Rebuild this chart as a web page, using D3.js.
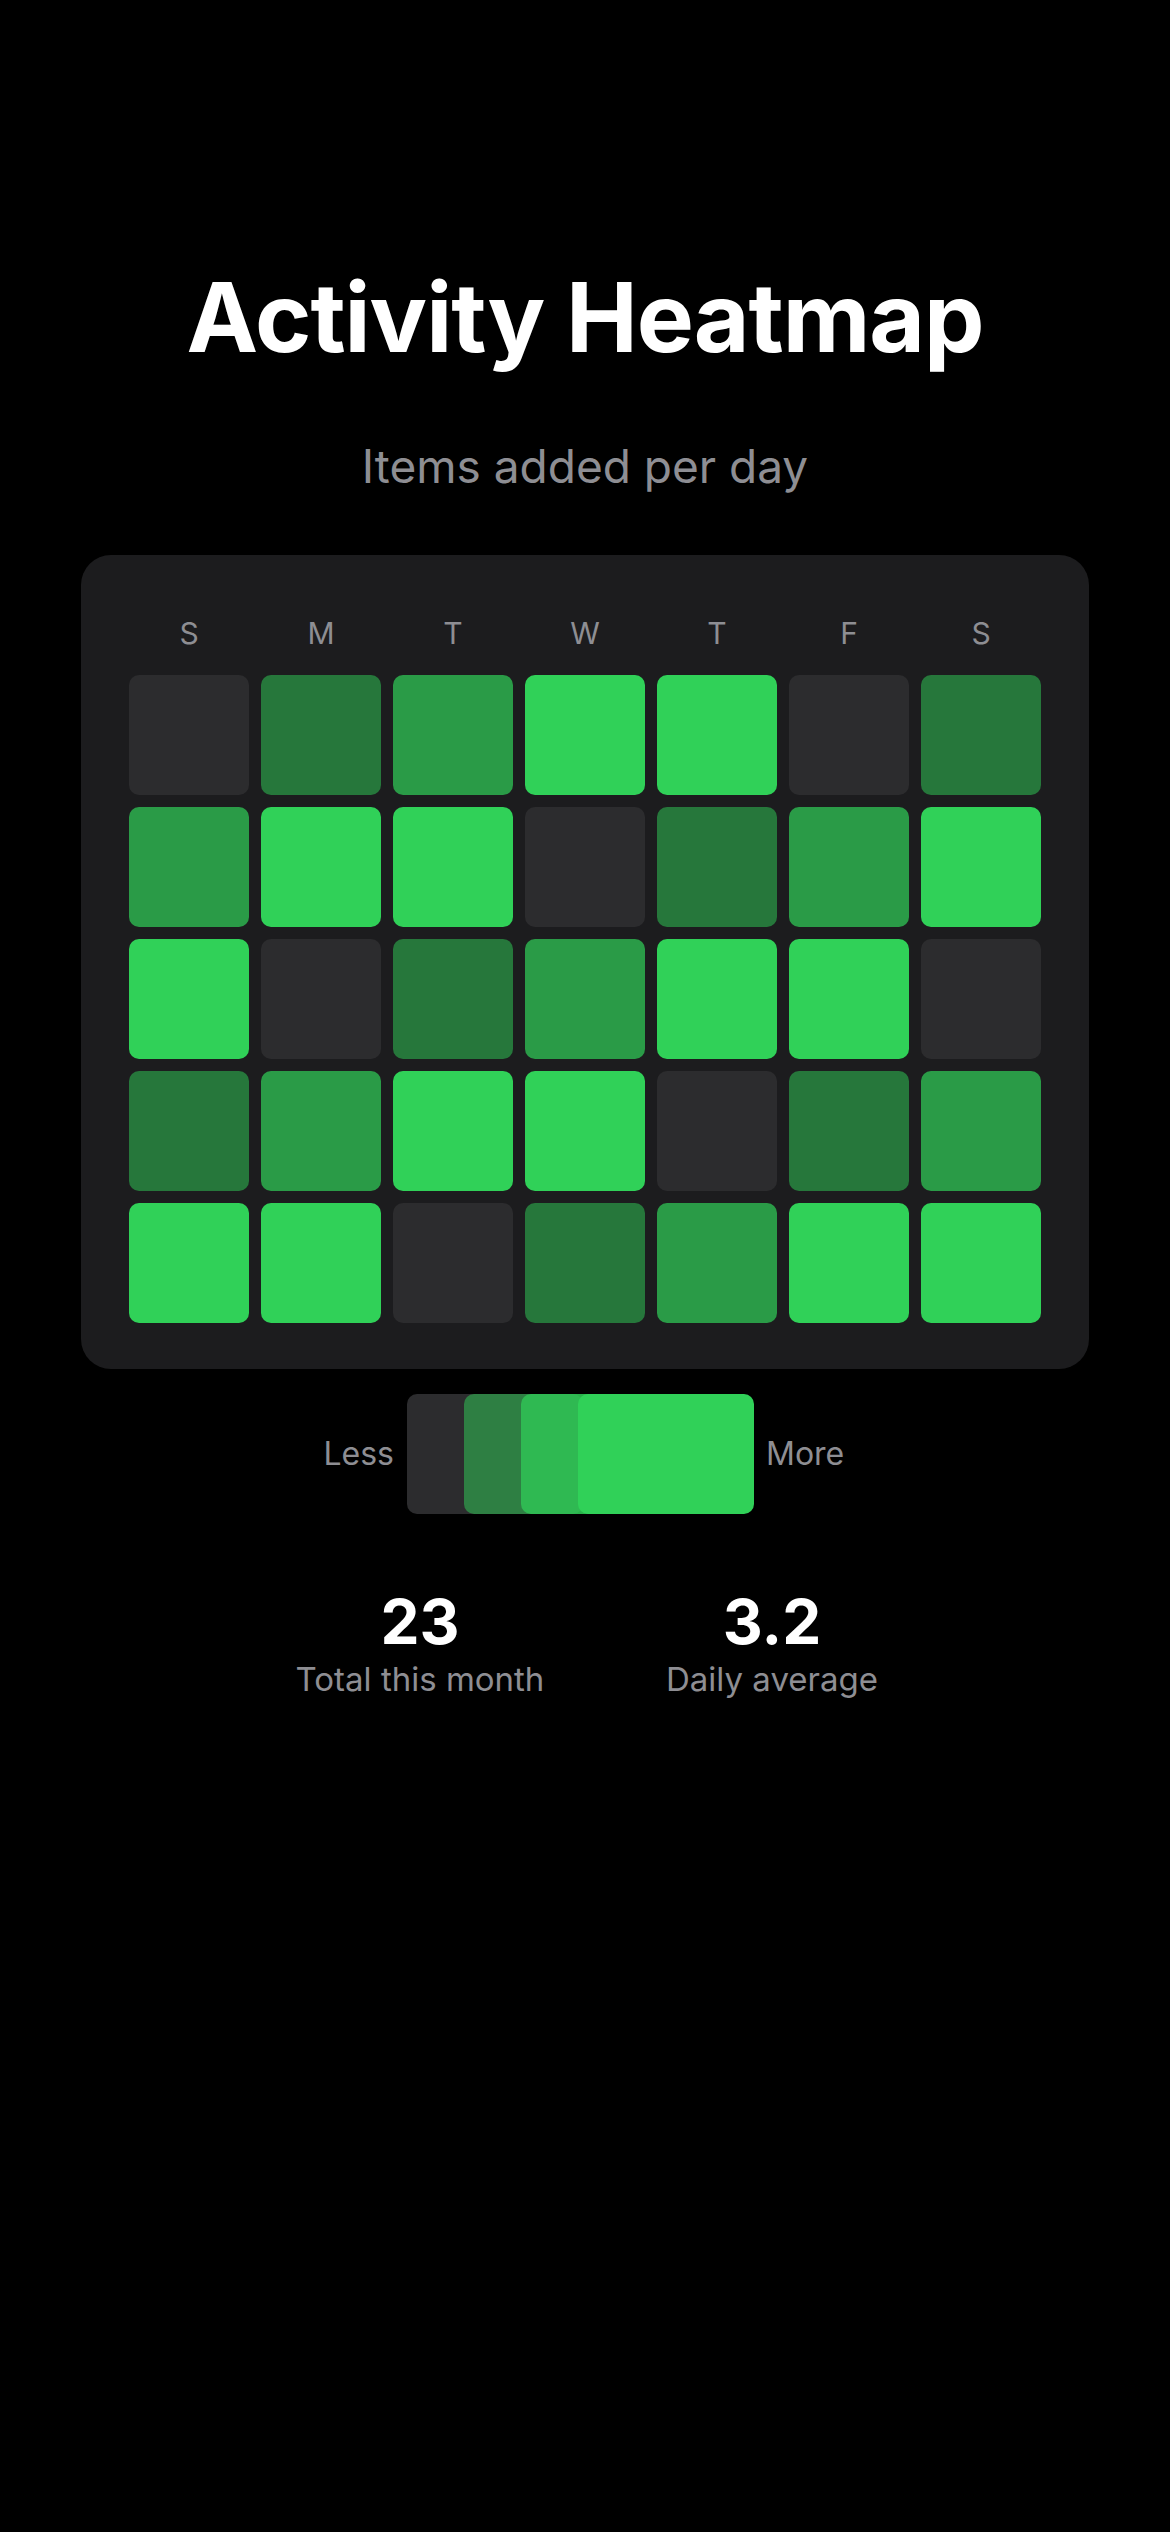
<!DOCTYPE html>
<html>
<head>
<meta charset="utf-8">
<script src="https://cdn.jsdelivr.net/npm/d3@7"></script>
<style>
  html, body { margin: 0; padding: 0; background: #000; }
  svg { display: block; }
  text { font-family: Inter, "Noto Sans", sans-serif; }
</style>
</head>
<body>
<svg id="chart" width="1170" height="2532"></svg>
<script>
// ---- data ----
const days = ["S", "M", "T", "W", "T", "F", "S"];
const weeks = [1, 2, 3, 4, 5];
// activity level per cell (0 = none, 3 = most), rows = weeks, columns = days
const week1 = [0, 1, 2, 3, 3, 0, 1];
const week2 = [2, 3, 3, 0, 1, 2, 3];
const week3 = [3, 0, 1, 2, 3, 3, 0];
const week4 = [1, 2, 3, 3, 0, 1, 2];
const week5 = [3, 3, 0, 1, 2, 3, 3];
const levels = [0, 1, 2, 3];
const levelOpacity = [1, 0.5, 0.7, 1];
const statValues = ["23", "3.2"];
const statLabels = ["Total this month", "Daily average"];

const grid = [week1, week2, week3, week4, week5];
const cells = [];
grid.forEach((row, r) => row.forEach((v, c) => cells.push({ r, c, v })));

const svg = d3.select("#chart");
const W = 1170;
const grey = "#8e8e93";
const green = "#30d158";
const empty = "#2c2c2e";

svg.append("rect").attr("width", W).attr("height", 2532).attr("fill", "#000");

// title
svg.append("text").attr("x", W / 2).attr("y", 352).attr("text-anchor", "middle")
  .attr("font-size", 96).attr("font-weight", 700).attr("fill", "#fff")
  .attr("letter-spacing", -1)
  .text("Activity Heatmap");
svg.append("text").attr("x", W / 2).attr("y", 483).attr("text-anchor", "middle")
  .attr("font-size", 46).attr("fill", grey)
  .text("Items added per day");

// card
svg.append("rect").attr("x", 81).attr("y", 555).attr("width", 1008).attr("height", 814)
  .attr("rx", 30).attr("fill", "#1c1c1e");

const x = d3.scaleBand().domain(d3.range(days.length)).range([129, 1041]).paddingInner(1 / 11);
const y = d3.scaleBand().domain(d3.range(weeks.length)).range([675, 1323]).paddingInner(1 / 11);
const fill = d3.scaleOrdinal().domain(levels).range([empty, green, green, green]);
const op = d3.scaleOrdinal().domain(levels).range(levelOpacity);

svg.append("g").selectAll("text").data(days).join("text")
  .attr("x", (d, i) => x(i) + x.bandwidth() / 2).attr("y", 644)
  .attr("text-anchor", "middle").attr("font-size", 30).attr("fill", grey)
  .text(d => d);

svg.append("g").selectAll("rect").data(cells).join("rect")
  .attr("x", d => x(d.c)).attr("y", d => y(d.r))
  .attr("width", x.bandwidth()).attr("height", y.bandwidth())
  .attr("rx", 10)
  .attr("fill", d => fill(d.v)).attr("fill-opacity", d => op(d.v));

// legend
const lx = d3.scaleLinear().domain([0, 3]).range([407, 578]);
svg.append("g").selectAll("rect").data(levels).join("rect")
  .attr("x", d => lx(d)).attr("y", 1394).attr("width", 176).attr("height", 120)
  .attr("rx", 10).attr("fill", d => fill(d)).attr("fill-opacity", d => op(d));
svg.append("text").attr("x", 394).attr("y", 1465).attr("text-anchor", "end")
  .attr("font-size", 32).attr("fill", grey).text("Less");
svg.append("text").attr("x", 766).attr("y", 1465).attr("text-anchor", "start")
  .attr("font-size", 32).attr("fill", grey).text("More");

// stats
const sx = [420, 772];
svg.append("g").selectAll("text").data(statValues).join("text")
  .attr("x", (d, i) => sx[i]).attr("y", 1644).attr("text-anchor", "middle")
  .attr("font-size", 62).attr("font-weight", 700).attr("fill", "#fff").text(d => d);
svg.append("g").selectAll("text").data(statLabels).join("text")
  .attr("x", (d, i) => sx[i]).attr("y", 1691).attr("text-anchor", "middle")
  .attr("font-size", 33).attr("fill", grey).text(d => d);
</script>
</body>
</html>
